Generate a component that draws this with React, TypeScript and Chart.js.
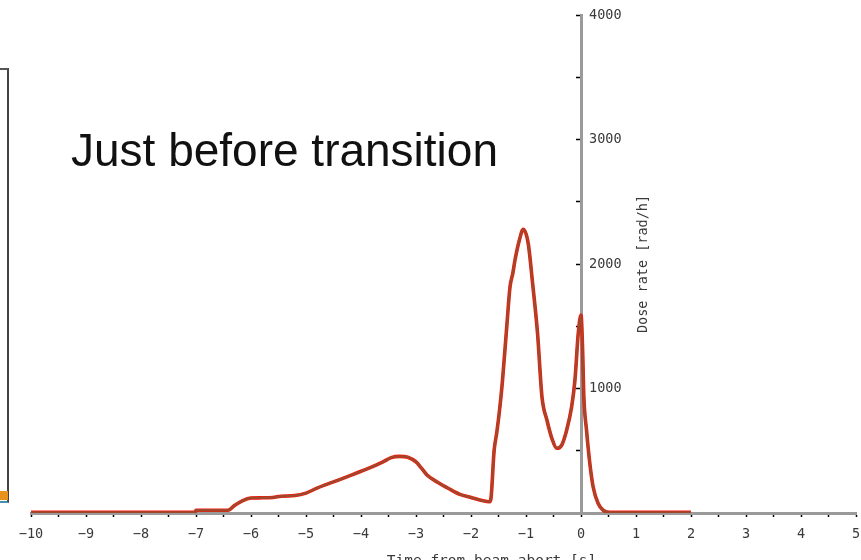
import React, { useEffect, useRef } from "react";
import { Chart, registerables } from "chart.js";

Chart.register(...registerables);

// Dose rate trace around the beam abort (t = 0)
const timeSec = [
  -10, -7.02, -7.0, -6.42, -6.3, -6.15, -6.0, -5.8, -5.6, -5.45, -5.2, -5.0,
  -4.8, -4.5, -4.2, -4.0, -3.8, -3.6, -3.45, -3.3, -3.15, -3.0, -2.9, -2.8,
  -2.6, -2.4, -2.2, -2.0, -1.8, -1.67, -1.64, -1.58, -1.53, -1.48, -1.43,
  -1.35, -1.29, -1.24, -1.2, -1.12, -1.05, -0.96, -0.88, -0.79, -0.71, -0.62,
  -0.53, -0.44, -0.35, -0.26, -0.17, -0.11, -0.05, 0.0, 0.03, 0.05, 0.1,
  0.16, 0.22, 0.31, 0.4, 0.53, 2.0,
];
const doseRate = [
  5, 5, 22, 22, 60, 100, 120, 122, 125, 135, 140, 160,
  200, 250, 300, 335, 370, 410, 445, 455, 448, 410, 360, 305,
  245, 195, 150, 125, 100, 90, 110, 500, 650, 830, 1050,
  1496, 1818, 1925, 2032, 2193, 2279, 2166, 1845, 1443, 934, 747,
  600, 520, 546, 667, 854, 1068, 1443, 1590, 1300, 950, 667,
  399, 211, 78, 24, 5, 5,
];

const xRange = [-10, 5];
const yRange = [0, 4000];
const xTickStep = 0.5;
const yTickStep = 500;
const yLabelStep = 1000;

const TITLE = "Just before transition";
const X_TITLE = "Time from beam abort [s]";
const Y_TITLE = "Dose rate [rad/h]";

const MONO = '"DejaVu Sans Mono", "Liberation Mono", monospace';
const TEXT_COLOR = "#3a3a3a";

const fmtTick = (v: number) => (v < 0 ? "\u2212" + Math.abs(v) : String(v));

// y tick labels sit to the right of the centred y axis; axis titles drawn here too
const axisText = {
  id: "axisText",
  afterDraw(chart: any) {
    const { ctx, chartArea, scales } = chart;
    const xs = scales.x;
    const ys = scales.y;
    const x0 = xs.getPixelForValue(0);
    ctx.save();
    ctx.fillStyle = TEXT_COLOR;
    ctx.font = `13.5px ${MONO}`;
    ctx.textAlign = "left";
    ctx.textBaseline = "middle";
    ys.ticks.forEach((t: any) => {
      if (t.label) ctx.fillText(String(t.label), x0 + 8, ys.getPixelForValue(t.value));
    });
    ctx.restore();

    ctx.save();
    ctx.fillStyle = TEXT_COLOR;
    ctx.font = `13.5px ${MONO}`;
    ctx.translate(x0 + 62, ys.getPixelForValue(2000));
    ctx.rotate(-Math.PI / 2);
    ctx.textAlign = "center";
    ctx.textBaseline = "middle";
    ctx.fillText(Y_TITLE, 0, 0);
    ctx.restore();

    ctx.save();
    ctx.fillStyle = TEXT_COLOR;
    ctx.font = `14.5px ${MONO}`;
    ctx.textAlign = "center";
    ctx.textBaseline = "top";
    ctx.fillText(X_TITLE, (chartArea.left + chartArea.right) / 2 + 48, chartArea.bottom + 41);
    ctx.restore();
  },
};

export default function App() {
  const canvasRef = useRef<HTMLCanvasElement>(null);

  useEffect(() => {
    const points = timeSec.map((t, i) => ({ x: t, y: doseRate[i] }));
    const chart = new Chart(canvasRef.current!, {
      type: "line",
      data: {
        datasets: [
          {
            data: points,
            borderColor: "#a0482c",
            borderWidth: 2.4,
            pointRadius: 0,
            cubicInterpolationMode: "monotone",
            order: 0,
          },
          {
            data: points,
            borderColor: "#ff1408",
            borderWidth: 3.6,
            pointRadius: 0,
            cubicInterpolationMode: "monotone",
            order: 1,
          },
        ],
      },
      options: {
        responsive: false,
        animation: false,
        devicePixelRatio: 1,
        layout: { padding: { left: 31, right: 5, top: 15, bottom: 0 } },
        plugins: {
          legend: { display: false },
          tooltip: { enabled: false },
          title: { display: false },
        },
        scales: {
          x: {
            type: "linear",
            min: xRange[0],
            max: xRange[1],
            position: "bottom",
            afterFit: (s: any) => {
              s.height = 47;
              s.paddingLeft = 0;
              s.paddingRight = 0;
            },
            border: { color: "#9a9a9a", width: 3 },
            grid: { drawOnChartArea: false, color: "#000", tickLength: 4, tickWidth: 1.5 },
            ticks: {
              stepSize: xTickStep,
              autoSkip: false,
              maxRotation: 0,
              padding: 9,
              color: TEXT_COLOR,
              font: { family: MONO, size: 13.5 },
              callback: (v: any) => (Number.isInteger(v) ? fmtTick(v) : ""),
            },
          },
          y: {
            type: "linear",
            min: yRange[0],
            max: yRange[1],
            position: { x: 0 } as any,
            border: { color: "#9a9a9a", width: 3 },
            grid: { drawOnChartArea: false, color: "#000", tickLength: 4, tickWidth: 1.5 },
            ticks: {
              display: false,
              stepSize: yTickStep,
              callback: (v: any) => (v > 0 && v % yLabelStep === 0 ? String(v) : ""),
            },
          },
        },
      },
      plugins: [axisText],
    });
    return () => chart.destroy();
  }, []);

  return (
    <div
      style={{
        position: "fixed",
        left: 0,
        top: 0,
        width: 861,
        height: 560,
        background: "#fff",
        overflow: "hidden",
      }}
    >
      <canvas
        ref={canvasRef}
        width={861}
        height={560}
        style={{ position: "absolute", left: 0, top: 0, display: "block" }}
      />
      {/* edge of the neighbouring panel */}
      <div
        style={{
          position: "absolute",
          left: -20,
          top: 68,
          width: 27,
          height: 431,
          borderTop: "2px solid #555",
          borderRight: "2px solid #444",
          borderBottom: "2px solid #4a8fa8",
        }}
      />
      <div
        style={{
          position: "absolute",
          left: 0,
          top: 491,
          width: 8,
          height: 9,
          background: "#e8921e",
        }}
      />
      <div
        style={{
          position: "absolute",
          left: 71,
          top: 127,
          font: '46px "Liberation Sans", Arial, sans-serif',
          lineHeight: "46px",
          color: "#111",
          whiteSpace: "nowrap",
        }}
      >
        {TITLE}
      </div>
    </div>
  );
}
